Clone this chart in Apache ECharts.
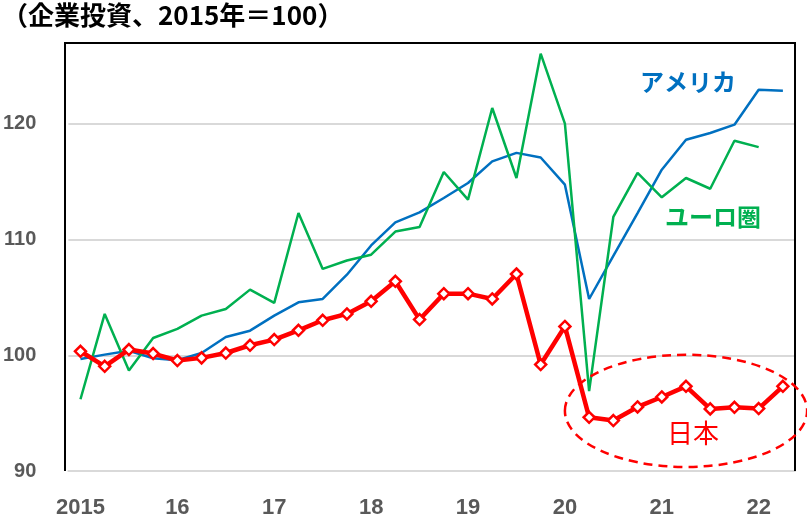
<!DOCTYPE html>
<html><head><meta charset="utf-8">
<script src="https://cdn.jsdelivr.net/npm/echarts@6/dist/echarts.min.js"></script>
<style>html,body{margin:0;padding:0;background:#fff}#c{width:807px;height:519px}</style>
</head><body><div id="c"></div>
<script>
const categories = [];
const years = [2015,2016,2017,2018,2019,2020,2021,2022];
const yearLabels = ['2015','16','17','18','19','20','21','22'];
for (let i = 0; i < 30; i++) categories.push(years[Math.floor(i/4)] + 'Q' + (i%4+1));

const japan = [100.35, 99.05, 100.5, 100.15, 99.55, 99.78, 100.2, 100.87, 101.36, 102.16, 103.03, 103.58, 104.67, 106.4, 103.09, 105.33, 105.33, 104.87, 107.03, 99.2, 102.5, 94.64, 94.36, 95.54, 96.4, 97.32, 95.37, 95.51, 95.4, 97.32];
const usa = [99.69, 100.06, 100.4, 99.75, 99.57, 100.2, 101.59, 102.13, 103.43, 104.58, 104.87, 106.97, 109.5, 111.5, 112.36, 113.6, 114.9, 116.77, 117.5, 117.1, 114.75, 104.87, 108.6, 112.3, 116.05, 118.64, 119.22, 119.94, 122.96, 122.88];
const euro = [96.2, 103.58, 98.68, 101.5, 102.28, 103.43, 104.0, 105.68, 104.53, 112.3, 107.47, 108.2, 108.7, 110.7, 111.1, 115.85, 113.46, 121.38, 115.33, 126.08, 120.03, 96.9, 111.96, 115.77, 113.66, 115.33, 114.4, 118.55, 118.0, null];
const yTicks = [90, 100, 110, 120];

const chart = echarts.init(document.getElementById('c'), null, {renderer: 'canvas'});
const font = '"Liberation Sans", "Noto Sans CJK JP", sans-serif';
const cjk = '"Noto Sans CJK JP", sans-serif';
chart.setOption({
  animation: false,
  backgroundColor: '#fff',
  grid: {left: 65, right: 12, top: 43, bottom: 48, show: false},
  xAxis: {
    type: 'category', data: categories, boundaryGap: true,
    axisLine: {show: true, lineStyle: {color: '#d9d9d9', width: 2}},
    axisTick: {show: false},
    axisLabel: {
      interval: 3, margin: 26, color: '#595959', fontSize: 22, fontWeight: 'bold', fontFamily: font,
      formatter: (v, i) => yearLabels[Math.floor(i/4)]
    }
  },
  yAxis: {
    type: 'value', min: 90, max: 127, interval: 10,
    axisLine: {show: false}, axisTick: {show: false},
    splitLine: {show: true, lineStyle: {color: '#d9d9d9', width: 2}},
    axisLabel: {
      margin: 32, color: '#595959', fontSize: 20, fontWeight: 'bold', fontFamily: font,
      showMaxLabel: false,
      formatter: v => yTicks.includes(v) ? String(v) : ''
    }
  },
  series: [
    {name: 'アメリカ', type: 'line', data: usa, symbol: 'none', lineStyle: {color: '#0070C0', width: 2.5}, itemStyle: {color: '#0070C0'}, z: 2},
    {name: 'ユーロ圏', type: 'line', data: euro, symbol: 'none', lineStyle: {color: '#00B050', width: 2.5}, itemStyle: {color: '#00B050'}, z: 3},
    {name: '日本', type: 'line', data: japan, symbol: 'diamond', symbolSize: 11, showAllSymbol: true,
     lineStyle: {color: '#FF0000', width: 4.5}, itemStyle: {color: '#fff', borderColor: '#FF0000', borderWidth: 2.5}, z: 4}
  ]
});

const c0 = chart.convertToPixel({gridIndex: 0}, [25, 95.2]);
const c1 = chart.convertToPixel({gridIndex: 0}, [25 + 5.15, 95.2 - 4.85]);
const L = 65, T = 43, R = 807 - 12, B = 519 - 48;
chart.setOption({
  graphic: [
    {type: 'polyline', shape: {points: [[L, B], [L, T], [R, T], [R, B]]}, style: {fill: 'none', stroke: '#000', lineWidth: 2}, z: 5},
    {type: 'text', left: 2, top: 2, style: {text: '（企業投資、2015年＝100）', font: 'bold 26px ' + cjk, fill: '#000'}},
    {type: 'text', left: 640, top: 70, style: {text: 'アメリカ', font: 'bold 24px ' + cjk, fill: '#0070C0'}},
    {type: 'text', left: 665, top: 205, style: {text: 'ユーロ圏', font: 'bold 24px ' + cjk, fill: '#00B050'}},
    {type: 'text', left: 667, top: 420, style: {text: '日本', font: '26px ' + cjk, fill: '#FF0000'}},
    {type: 'ellipse', shape: {cx: c0[0], cy: c0[1], rx: c1[0] - c0[0], ry: c1[1] - c0[1]},
     style: {fill: 'none', stroke: '#FF0000', lineWidth: 2.5, lineDash: [9, 6]}, z: 10}
  ]
});
</script></body></html>
